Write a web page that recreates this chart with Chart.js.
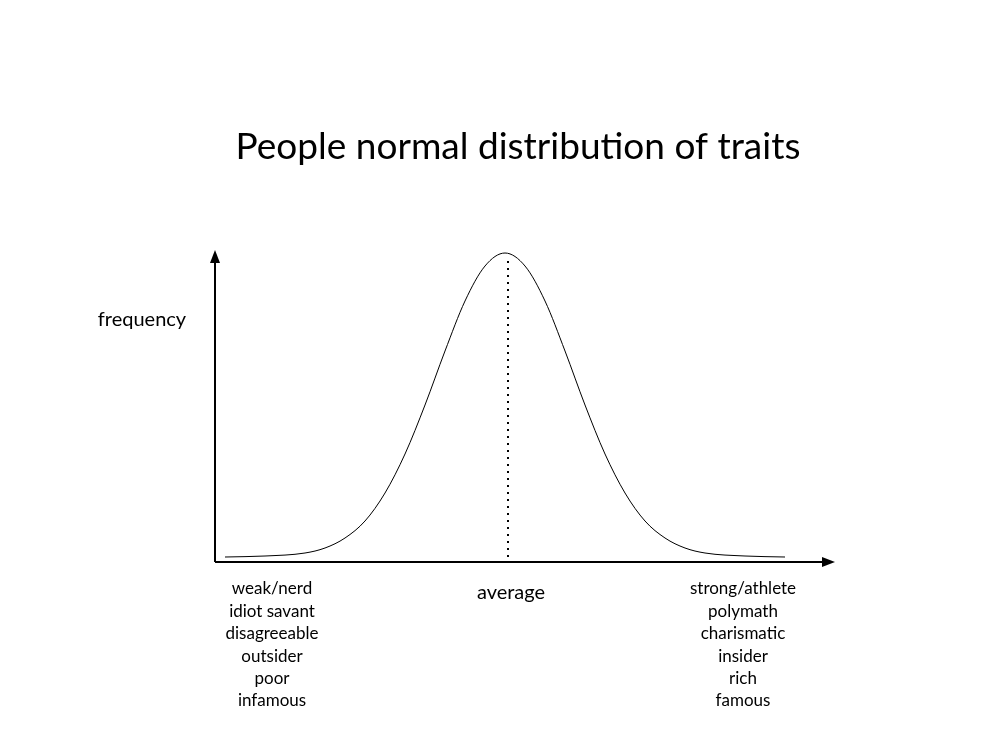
<!DOCTYPE html>
<html>
<head>
<meta charset="utf-8">
<script src="https://cdn.jsdelivr.net/npm/chart.js@4"></script>
<style>
  html, body { margin: 0; padding: 0; background: #fff; }
  canvas { display: block; }
</style>
</head>
<body>
<canvas id="chart" width="1000" height="750"></canvas>
<script>
// curve: x position along trait axis, height above axis
const curveX = [225, 265, 305, 325, 345, 365, 385, 405, 425, 445, 465, 485, 505, 525, 545, 565, 585, 605, 625, 645, 665, 685, 705, 745, 785];
const curveY = [5, 6, 9, 14, 24, 41, 69, 108, 157, 211, 261, 296, 309, 296, 261, 211, 157, 108, 69, 41, 24, 14, 9, 6, 5];
const avgX = [508, 508];
const avgY = [5, 302];

const title = "People normal distribution of traits";
const yLabel = "frequency";
const midLabel = "average";
const leftTraits = ["weak/nerd", "idiot savant", "disagreeable", "outsider", "poor", "infamous"];
const rightTraits = ["strong/athlete", "polymath", "charismatic", "insider", "rich", "famous"];

const FONT = "Lato, 'Open Sans', sans-serif";

const decorations = {
  id: "decorations",
  afterDraw(chart) {
    const { ctx, chartArea: a } = chart;
    ctx.save();
    ctx.strokeStyle = "#000";
    ctx.fillStyle = "#000";
    ctx.lineWidth = 2;
    // axes
    ctx.beginPath();
    ctx.moveTo(a.left, a.bottom);
    ctx.lineTo(a.left, a.top + 6);
    ctx.moveTo(a.left, a.bottom);
    ctx.lineTo(a.right - 6, a.bottom);
    ctx.stroke();
    // arrow heads
    ctx.beginPath();
    ctx.moveTo(a.left, a.top);
    ctx.lineTo(a.left - 5, a.top + 13);
    ctx.lineTo(a.left + 5, a.top + 13);
    ctx.closePath();
    ctx.fill();
    ctx.beginPath();
    ctx.moveTo(a.right, a.bottom);
    ctx.lineTo(a.right - 13, a.bottom - 5);
    ctx.lineTo(a.right - 13, a.bottom + 5);
    ctx.closePath();
    ctx.fill();

    ctx.textAlign = "center";
    ctx.textBaseline = "middle";
    ctx.font = "37px " + FONT;
    ctx.fillText(title, 518, 147);
    ctx.font = "20px " + FONT;
    ctx.fillText(yLabel, 142, 320);
    ctx.fillText(midLabel, 511, 593);
    ctx.font = "17px " + FONT;
    leftTraits.forEach((t, i) => ctx.fillText(t, 272, 589 + i * 22.4));
    rightTraits.forEach((t, i) => ctx.fillText(t, 743, 589 + i * 22.4));
    ctx.restore();
  }
};

new Chart(document.getElementById("chart").getContext("2d"), {
  type: "line",
  data: {
    datasets: [
      {
        data: curveX.map((x, i) => ({ x: x, y: curveY[i] })),
        borderColor: "#000",
        borderWidth: 1,
        pointRadius: 0,
        cubicInterpolationMode: "monotone",
        fill: false,
      },
      {
        data: avgX.map((x, i) => ({ x: x, y: avgY[i] })),
        borderColor: "#000",
        borderWidth: 2,
        borderDash: [2, 5],
        pointRadius: 0,
        fill: false,
      },
    ],
  },
  options: {
    responsive: false,
    animation: false,
    devicePixelRatio: 1,
    layout: { padding: { left: 215, right: 165, top: 250, bottom: 188 } },
    plugins: { legend: { display: false }, tooltip: { enabled: false } },
    scales: {
      x: { type: "linear", min: 215, max: 835, display: false },
      y: { min: 0, max: 312, display: false },
    },
  },
  plugins: [decorations],
});
</script>
</body>
</html>
